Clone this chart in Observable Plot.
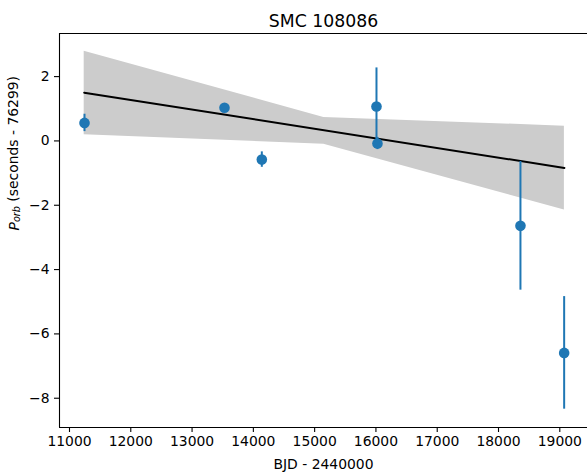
<!DOCTYPE html>
<html>
<head>
<meta charset="utf-8">
<script src="https://cdn.jsdelivr.net/npm/d3@7"></script>
<script src="https://cdn.jsdelivr.net/npm/@observablehq/plot@0.6"></script>
<style>
  html, body { margin: 0; padding: 0; background: #fff; overflow: hidden; }
</style>
</head>
<body>
<div id="chart"></div>
<script>
// Orbital period timing residuals of SMC 108086 with a linear fit and its confidence band.
const chartTitle = "SMC 108086";
const xLabel = "BJD - 2440000";
const yLabelParts = ["P", "orb", " (seconds - 76299)"];

// Observations: epoch (BJD - 2440000), period offset (s) and 1-sigma error (s)
const obsBJD = [11245, 13529, 14138, 16009, 16025, 18358, 19071];
const obsP   = [0.56, 1.03, -0.58, 1.07, -0.08, -2.64, -6.59];
const obsErr = [0.27, 0.10, 0.24, 1.20, 0.19, 2.00, 1.75];

// Linear fit
const fitBJD = [11240, 19075];
const fitP   = [1.50, -0.84];

// Confidence band of the fit
const bandBJD = [11240, 15150, 19075];
const bandLo  = [0.19, -0.10, -2.15];
const bandHi  = [2.79, 0.73, 0.46];

// Axis ticks and limits
const xTicks = [11000, 12000, 13000, 14000, 15000, 16000, 17000, 18000, 19000];
const yTicks = [-8, -6, -4, -2, 0, 2];
const xDomain = [10837, 19452];
const yDomain = [-8.91, 3.34];

const obs = obsBJD.map((x, i) => ({x, y: obsP[i], lo: obsP[i] - obsErr[i], hi: obsP[i] + obsErr[i]}));
const fit = fitBJD.map((x, i) => ({x, y: fitP[i]}));
const band = bandBJD.map((x, i) => ({x, lo: bandLo[i], hi: bandHi[i]}));

const blue = "#1f77b4";
const Y_LABEL_KEY = "__ylabel__";

const chart = Plot.plot({
  width: 587,
  height: 473,
  marginLeft: 59,
  marginRight: 0,
  marginTop: 33,
  marginBottom: 46,
  style: {fontFamily: "'DejaVu Sans', sans-serif", fontSize: "13.9px", color: "#000", background: "#fff"},
  x: {domain: xDomain},
  y: {domain: yDomain},
  marks: [
    Plot.areaY(band, {x: "x", y1: "lo", y2: "hi", fill: "#cccccc", fillOpacity: 1}),
    Plot.line(fit, {x: "x", y: "y", stroke: "#000", strokeWidth: 2}),
    Plot.ruleX(obs, {x: "x", y1: "lo", y2: "hi", stroke: blue, strokeWidth: 2}),
    Plot.dot(obs, {x: "x", y: "y", r: 5.3, fill: blue, stroke: "none"}),
    // axes frame (left, top, bottom)
    Plot.ruleY([yDomain[0], yDomain[1]], {stroke: "#000", strokeWidth: 1.1}),
    Plot.ruleX([xDomain[0]], {stroke: "#000", strokeWidth: 1.1}),
    Plot.axisX({ticks: xTicks, tickFormat: d3.format("d"), tickSize: 5, tickPadding: 4, label: null, strokeWidth: 1.1}),
    Plot.axisY({ticks: yTicks, tickFormat: d3.format("d"), tickSize: 5, tickPadding: 5, label: null, strokeWidth: 1.1}),
    Plot.text([chartTitle], {frameAnchor: "top", dy: -7, lineAnchor: "bottom", fontSize: 17.3, text: d => d}),
    Plot.text([xLabel], {frameAnchor: "bottom", dy: 41, lineAnchor: "bottom", fontSize: 13.9, text: d => d}),
    Plot.text([Y_LABEL_KEY], {frameAnchor: "left", dx: -41, rotate: -90, lineAnchor: "bottom", fontSize: 13.9, text: d => d})
  ]
});

// Rich y-axis label: italic P with subscript "orb"
d3.select(chart).selectAll("text").filter(function () { return this.textContent === Y_LABEL_KEY; })
  .each(function () {
    const t = d3.select(this);
    t.text(null);
    t.append("tspan").attr("font-style", "italic").text(yLabelParts[0]);
    t.append("tspan").attr("font-style", "italic").attr("font-size", "9.7px").attr("dy", "0.2em").text(yLabelParts[1]);
    t.append("tspan").attr("dy", "-0.2em").text(yLabelParts[2]);
  });

document.getElementById("chart").appendChild(chart);
</script>
</body>
</html>
